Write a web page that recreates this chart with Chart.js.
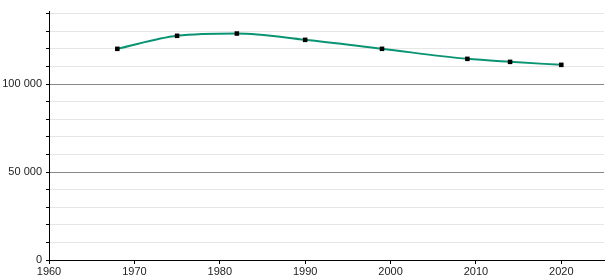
<!DOCTYPE html>
<html>
<head>
<meta charset="utf-8">
<script src="https://cdn.jsdelivr.net/npm/chart.js@4/dist/chart.umd.min.js"></script>
<style>
  html, body { margin: 0; padding: 0; background: #fff; }
  #wrap { width: 615px; height: 280px; }
</style>
</head>
<body>
<div id="wrap"><canvas id="myChart"></canvas></div>
<script>
// census years and population
const years = [1968, 1975, 1982, 1990, 1999, 2009, 2014, 2020];
const population = [120000, 127400, 128700, 125100, 120000, 114300, 112600, 110900];
const xTicks = [1960, 1970, 1980, 1990, 2000, 2010, 2020];
const yTicks = [0, 10000, 20000, 30000, 40000, 50000, 60000, 70000, 80000, 90000, 100000, 110000, 120000, 130000, 140000];
const yLabels = [0, 50000, 100000];

const spaced = (v) => String(v).replace(/\B(?=(\d{3})+(?!\d))/g, ' ');

const ctx = document.getElementById('myChart').getContext('2d');

new Chart(ctx, {
  type: 'line',
  data: {
    datasets: [{
      data: years.map((y, i) => ({ x: y, y: population[i] })),
      borderColor: '#0a9474',
      borderWidth: 2,
      cubicInterpolationMode: 'monotone',
      pointStyle: 'rect',
      pointRadius: 3.2,
      pointBackgroundColor: '#000',
      pointBorderColor: '#000',
      pointBorderWidth: 0
    }]
  },
  options: {
    responsive: true,
    maintainAspectRatio: false,
    animation: false,
    layout: { padding: { top: 11, right: 11, left: 0, bottom: 0 } },
    plugins: { legend: { display: false }, tooltip: { enabled: false } },
    scales: {
      x: {
        type: 'linear',
        min: 1960,
        max: 2025,
        afterBuildTicks: (scale) => { scale.ticks = xTicks.map(v => ({ value: v })); },
        ticks: {
          callback: (v) => String(v),
          color: '#222',
          font: { family: 'Liberation Sans', size: 11 },
          padding: 1,
          maxRotation: 0
        },
        grid: { drawOnChartArea: false, drawTicks: true, tickLength: 4, tickColor: '#000' },
        border: { color: '#000', width: 1 },
        afterFit: (scale) => { scale.height = 20; }
      },
      y: {
        min: 0,
        max: 141500,
        afterBuildTicks: (scale) => { scale.ticks = yTicks.map(v => ({ value: v })); },
        ticks: {
          autoSkip: false,
          callback: (v) => yLabels.includes(v) ? spaced(v) : '',
          color: '#222',
          font: { family: 'Liberation Sans', size: 11 },
          padding: 4
        },
        grid: {
          color: (c) => (c.tick && c.tick.value % 50000 === 0) ? '#888' : '#e6e6e6',
          tickColor: '#000',
          tickLength: 3,
          lineWidth: 1
        },
        border: { color: '#000', width: 1 },
        afterFit: (scale) => { scale.width = 49; }
      }
    }
  }
});
</script>
</body>
</html>
